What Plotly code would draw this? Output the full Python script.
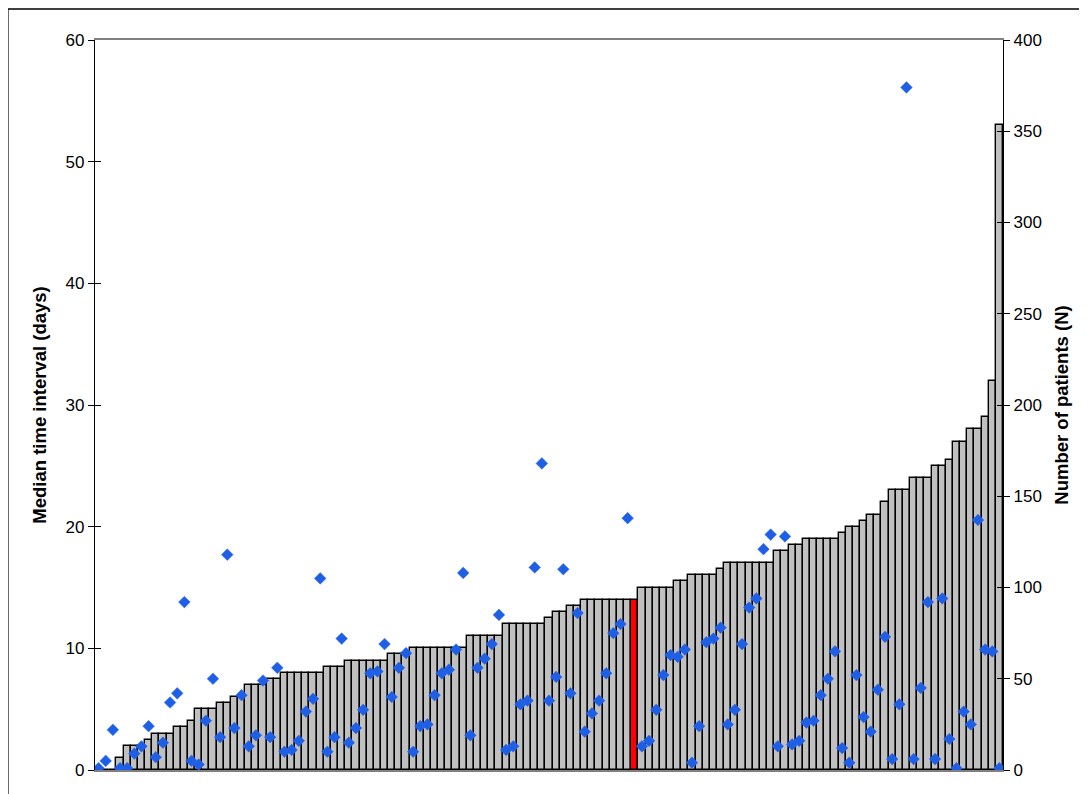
import plotly.graph_objects as go

# Hospitals (sorted by median interval)
hospitals = [str(i + 1) for i in range(127)]

# Median time interval per hospital (days) - bars, left axis
median_days = [
    0, 0, 0, 1, 2, 2, 2, 2.5, 3, 3, 3, 3.5, 3.5, 4, 5, 5, 5, 5.5, 5.5, 6, 6,
    7, 7, 7, 7.5, 7.5, 8, 8, 8, 8, 8, 8, 8.5, 8.5, 8.5, 9, 9, 9, 9, 9, 9,
    9.5, 9.5, 9.5, 10, 10, 10, 10, 10, 10, 10, 10, 11, 11, 11, 11, 11,
    12, 12, 12, 12, 12, 12, 12.5, 13, 13, 13.5, 13.5,
    14, 14, 14, 14, 14, 14, 14, 14,
    15, 15, 15, 15, 15, 15.5, 15.5, 16, 16, 16, 16, 16.5,
    17, 17, 17, 17, 17, 17, 17, 18, 18, 18.5, 18.5, 19, 19, 19, 19, 19,
    19.5, 20, 20, 20.5, 21, 21, 22, 23, 23, 23, 24, 24, 24, 25, 25, 25.5,
    27, 27, 28, 28, 29, 32, 53,
]

# Number of patients per hospital - diamonds, right axis (none for the overall bar)
patients = [
    1, 5, 22, 1, 1, 9, 13, 24, 7, 15, 37, 42, 92, 5, 3, 27, 50, 18, 118, 23, 41,
    13, 19, 49, 18, 56, 10, 11, 16, 32, 39, 105, 10, 18, 72, 15, 23, 33, 53, 54, 69,
    40, 56, 64, 10, 24, 25, 41, 53, 55, 66, 108, 19, 56, 61, 69, 85, 11, 13, 36, 38,
    111, 168, 38, 51, 110, 42, 86, 21, 31, 38, 53, 75, 80, 138, None,
    13, 16, 33, 52, 63, 62, 66, 4, 24, 70, 72, 78, 25, 33, 69, 89, 94, 121, 129,
    13, 128, 14, 16, 26, 27, 41, 50, 65, 12, 4, 52, 29, 21, 44, 73, 6, 36, 374,
    6, 45, 92, 6, 94, 17, 1, 32, 25, 137, 66, 65, 1,
]

overall_index = 75  # highlighted (red) bar

left_ticks = [0, 10, 20, 30, 40, 50, 60]
right_ticks = [0, 50, 100, 150, 200, 250, 300, 350, 400]

bar_colors = ["#FF0000" if i == overall_index else "#C0C0C0" for i in range(len(hospitals))]

FONT = "Liberation Sans, Arial, sans-serif"

fig = go.Figure()
fig.add_trace(go.Bar(
    x=hospitals, y=median_days, yaxis="y",
    marker=dict(color=bar_colors, line=dict(color="black", width=1.4)),
    hoverinfo="skip",
))
fig.add_trace(go.Scatter(
    x=hospitals, y=patients, yaxis="y2", mode="markers",
    marker=dict(symbol="diamond", size=9, color="#1F5FE6",
                line=dict(color="#2F6FF0", width=0.5)),
))

fig.update_layout(
    width=1079, height=786,
    margin=dict(l=87, r=84, t=32, b=24),
    paper_bgcolor="white", plot_bgcolor="white",
    showlegend=False, bargap=0,
    font=dict(family=FONT, size=17, color="black"),
    xaxis=dict(type="category", showticklabels=False, ticks="",
               showgrid=False, zeroline=False,
               showline=True, linecolor="#808080", linewidth=1.5, mirror=True,
               range=[-0.5, len(hospitals) - 0.5]),
    yaxis=dict(range=[0, 60], tickvals=left_ticks, ticks="outside", ticklen=6,
               tickcolor="black", showgrid=False, zeroline=False,
               showline=True, linecolor="black", linewidth=1.2,
               title=dict(text="<b>Median time interval (days)</b>",
                          font=dict(size=18.5), standoff=14)),
    yaxis2=dict(range=[0, 400], tickvals=right_ticks, overlaying="y", side="right",
                ticks="outside", ticklen=6, tickcolor="black", showgrid=False,
                zeroline=False, showline=True, linecolor="black", linewidth=1.2,
                title=dict(text="<b>Number of patients (N)</b>",
                           font=dict(size=18.5), standoff=14)),
    yaxis3=dict(range=[0, 60], tickvals=left_ticks, overlaying="y", side="left",
                ticks="inside", ticklen=6, tickcolor="black", showticklabels=False,
                showgrid=False, zeroline=False, showline=False),
    yaxis4=dict(range=[0, 400], tickvals=right_ticks, overlaying="y", side="right",
                ticks="inside", ticklen=6, tickcolor="black", showticklabels=False,
                showgrid=False, zeroline=False, showline=False),
)

# dummy invisible traces to activate the inside-tick axes
fig.add_trace(go.Scatter(x=[hospitals[0]], y=[None], yaxis="y3", showlegend=False, hoverinfo="skip"))
fig.add_trace(go.Scatter(x=[hospitals[0]], y=[None], yaxis="y4", showlegend=False, hoverinfo="skip"))

# outer chart-area frame
fig.add_shape(type="rect", xref="paper", yref="paper",
              x0=-0.096, x1=1.1, y0=-0.05, y1=1.0425,
              line=dict(color="black", width=1.5), fillcolor="rgba(0,0,0,0)", layer="below")

fig.write_html("out.html")
